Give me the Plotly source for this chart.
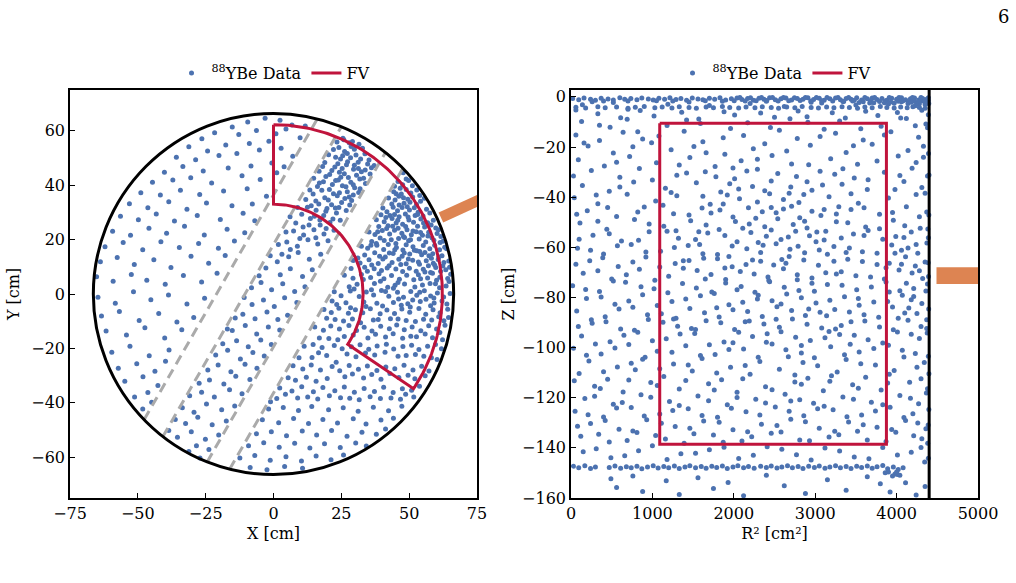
import math
import plotly.graph_objects as go

# ------------------------------------------------------------------ data
# Left panel: (X, Y) event positions in cm
LEFT_A = [(-9.5,63.2),(-3.1,64.6),(2.4,63.9),(6.8,62.1),(11.7,61.8),(-15.2,61.4),(-21.7,59.3),(-26.4,57.1),(-12.8,58.6),(-6.3,60.1),(0.9,58.9),(4.6,60.7),(9.8,57.4),(-1.7,56.2),(-8.9,55.3),(-17.6,54.8),(-31.2,54.1),(-24.3,52.6),(-35.8,50.3),(-28.7,49.4),(-20.1,50.9),(-13.5,51.7),(-5.2,52.9),(2.8,53.6),(7.1,50.6),(-0.6,48.2),(-8.3,47.1),(-16.7,46.3),(-25.9,45.2),(-33.4,46.9),(-40.2,44.8),(-44.6,41.1),(-37.1,41.9),(-30.5,42.7),(-22.8,40.8),(-11.6,43.5),(-4.9,42.1),(1.2,44.6),(3.9,46.8),(-48.9,37.2),(-41.7,36.4),(-34.3,38.1),(-27.2,36.6),(-18.4,37.9),(-9.7,38.7),(-2.6,35.9),(-53.1,33.2),(-46.3,31.7),(-38.6,33.9),(-31.9,31.2),(-24.7,33.5),(-15.3,32.4),(-7.8,33.1),(-56.4,28.6),(-49.8,27.3),(-43.2,29.4),(-36.5,26.8),(-28.1,28.9),(-19.6,27.4),(-11.2,29.7),(-6.9,26.9),(-59.3,23.1),(-52.7,21.6),(-45.9,24.2),(-39.4,22.3),(-32.8,24.9),(-25.5,21.7),(-17.1,23.8),(-10.6,22.5),(-62.1,17.4),(-55.4,18.9),(-48.2,16.3),(-41.5,19.2),(-34.7,17.1),(-27.6,18.6),(-20.3,16.8),(-14.4,19.5),(-63.8,11.9),(-57.6,13.4),(-51.3,10.8),(-44.1,12.6),(-37.8,9.7),(-30.4,13.9),(-23.9,11.3),(-17.8,14.2),(-65.2,6.3),(-59.1,4.7),(-52.4,7.2),(-46.7,5.1),(-39.9,3.6),(-33.2,6.8),(-26.5,4.4),(-20.8,7.6),(-64.7,-1.2),(-58.3,-3.4),(-51.6,0.8),(-45.2,-2.1),(-38.7,-0.4),(-31.9,-3.7),(-25.4,-1.6),(-63.4,-8.1),(-56.8,-6.4),(-49.5,-9.7),(-42.3,-7.2),(-35.6,-10.3),(-29.4,-8.6),(-61.7,-13.6),(-54.2,-15.1),(-47.4,-12.4),(-40.1,-16.2),(-33.8,-13.1),(-59.6,-21.4),(-52.9,-19.2),(-45.8,-22.7),(-38.5,-20.6),(-57.2,-27.3),(-50.4,-25.6),(-43.7,-28.4),(-39.8,-24.7),(-54.8,-32.1),(-48.1,-30.4),(-42.6,-33.6),(-51.2,-37.9),(-46.3,-36.2),(-48.2,-42.3),(-44.9,-39.8)]

LEFT_B = [(25.6,57.3),(27.9,55.6),(23.4,55.9),(29.8,53.2),(31.5,55.1),(26.2,52.4),(33.7,51.6),(22.1,53.1),(35.2,49.3),(28.4,50.1),(24.7,49.6),(20.3,51.2),(31.2,48.4),(37.1,47.2),(26.9,47.5),(22.6,46.7),(18.9,48.3),(33.8,45.6),(29.5,45.9),(35.6,44.1),(24.3,44.8),(20.7,43.9),(16.8,45.1),(27.6,42.8),(31.8,42.3),(33.9,40.6),(22.9,41.7),(18.4,41.3),(14.8,42.6),(25.4,39.8),(29.9,39.1),(20.6,38.4),(16.2,39.5),(13.4,38.2),(31.4,37.3),(27.2,37.6),(23.5,36.1),(18.9,35.4),(14.6,36.8),(11.9,34.7),(28.8,34.4),(25.1,33.6),(21.4,32.8),(16.7,33.1),(12.5,31.9),(26.8,30.7),(23.2,29.8),(19.3,30.4),(15.1,28.6),(10.4,29.3),(8.9,31.8),(24.6,27.1),(20.8,26.3),(17.2,25.4),(13.6,27.8),(8.2,26.1),(6.1,28.4),(22.3,23.4),(18.6,22.1),(14.9,23.6),(11.1,21.7),(7.4,23.2),(4.6,22.8),(20.1,19.6),(16.3,18.4),(12.7,19.9),(8.8,17.6),(4.9,19.1),(1.8,18.2),(17.4,14.6),(13.2,12.8),(9.1,15.3),(5.6,13.7),(1.4,11.9),(-1.2,14.1),(14.3,8.9),(10.7,6.4),(6.2,9.3),(2.5,7.1),(-2.8,9.6),(-5.3,6.7),(11.6,2.7),(7.8,0.9),(3.4,3.8),(-0.7,1.6),(-4.6,4.2),(-8.1,2.3),(8.6,-3.1),(4.1,-1.4),(0.3,-4.6),(-3.7,-2.2),(-7.9,-3.9),(-10.8,-1.3),(5.2,-7.8),(1.6,-9.4),(-2.4,-6.6),(-6.8,-9.1),(-11.3,-7.4),(-14.1,-8.8),(2.3,-13.2),(-1.9,-12.1),(-6.2,-14.7),(-10.4,-11.6),(-15.2,-13.4),(-17.0,-12.9),(-0.8,-18.6),(-4.7,-16.9),(-9.3,-19.4),(-13.6,-17.2),(-18.7,-18.3),(-3.4,-22.8),(-7.6,-21.5),(-12.2,-23.9),(-16.9,-20.7),(-21.3,-22.4),(-6.1,-27.3),(-10.5,-25.8),(-15.7,-28.6),(-20.4,-26.1),(-24.2,-27.9),(-8.7,-31.4),(-13.9,-30.2),(-18.3,-33.1),(-23.6,-31.6),(-27.4,-32.8),(-11.6,-36.7),(-16.2,-35.2),(-21.8,-37.9),(-26.5,-36.1),(-30.9,-37.4),(-14.3,-41.2),(-19.1,-42.6),(-24.7,-40.4),(-29.3,-43.5),(-33.6,-41.8),(-17.4,-46.7),(-22.6,-48.1),(-27.9,-45.3),(-32.4,-47.6),(-36.2,-46.1),(-20.2,-51.8),(-25.1,-53.4),(-30.3,-50.6),(-35.4,-52.7),(-38.6,-50.2),(-23.8,-57.2),(-28.4,-55.8),(-31.2,-57.9),(-27.1,-60.3)]

LEFT_B_CLUSTER = [(24.1,53.9),(28.6,54.2),(30.4,51.1),(25.5,50.8),(32.1,49.6),(27.3,48.6),(29.8,47.3),(23.7,47.9),(34.7,47.8),(21.5,45.4),(26.1,44.2),(30.6,43.7),(32.4,44.9),(19.3,43.2),(23.9,41.9),(28.5,41.1),(21.7,40.3),(26.7,39.4),(31.9,38.7),(17.8,38.1),(24.3,37.2),(29.4,36.4),(20.2,34.6),(26.3,35.1),(22.8,31.6),(28.1,32.7),(18.5,28.9),(21.9,27.6),(15.7,30.8),(13.1,25.4),
                  (25.9,56.7),(29.1,56.1),(32.8,53.6),(27.2,51.7),(22.9,50.3),(36.1,46.4),(31.3,46.1),(25.3,46.1),(18.1,46.9),(33.2,42.6),(29.4,40.2),(24.8,42.9),(16.9,40.8),(22.1,36.9),(27.9,35.7),(15.6,34.2),(19.7,31.4),(24.1,31.8),(13.9,32.4),(17.1,27.2),(10.9,24.6),(19.4,24.1),(15.6,20.7),(9.7,20.4),(6.2,16.4),(3.1,14.6)]

LEFT_C = [(47.8,44.6),(48.9,42.3),(45.9,41.4),(47.6,40.2),(49.8,41.7),(51.2,39.8),(46.7,38.9),(44.3,37.6),(48.9,38.4),(50.6,37.1),(52.8,38.2),(47.1,36.8),(53.9,36.2),(42.4,35.3),(44.8,34.6),(46.2,35.9),(49.5,34.8),(51.3,35.7),(54.2,34.1),(55.6,35.2),(48.1,33.4),(43.6,33.1),(52.7,32.9),(40.3,31.6),(41.8,30.2),(44.1,31.9),(45.7,30.6),(47.4,31.8),(50.1,30.9),(51.9,31.7),(53.3,30.1),(56.4,31.2),(57.6,29.8),(48.6,29.4),(42.9,28.9),(39.6,29.1),(55.1,28.7),(46.3,28.4),(37.9,27.3),(40.8,26.6),(43.7,27.8),(45.2,26.1),(49.9,27.2),(51.6,26.4),(54.3,27.6),(56.8,26.2),(58.9,27.1),(47.6,25.6),(42.2,25.1),(38.8,24.8),(53.1,24.9),(59.8,24.3),(55.7,24.6),(45.9,24.2),(35.2,22.8),(37.4,21.9),(40.1,23.3),(42.8,22.1),(44.6,23.4),(47.3,22.3),(49.2,23.6),(50.8,21.8),(52.6,22.9),(54.9,21.6),(57.2,22.7),(60.3,22.2),(61.7,21.1),(39.3,20.6),(46.1,20.4),(53.7,20.2),(58.4,20.7),(43.4,19.9),(49.8,19.6),(36.2,19.3),(56.1,19.1),(62.5,19.4),(32.4,17.6),(34.7,16.8),(38.1,17.9),(40.6,16.4),(42.3,18.2),(45.3,17.1),(47.7,16.2),(48.9,18.1),(51.4,17.4),(52.8,15.9),(55.2,17.8),(57.6,16.6),(59.4,17.9),(61.2,16.3),(63.1,17.2),(37.3,15.2),(44.1,14.9),(50.2,14.7),(54.6,14.4),(58.7,14.8),(62.1,14.1),(33.6,14.3),(41.2,13.6),(47.4,13.9),(29.4,12.3),(31.9,11.4),(35.2,12.6),(38.6,11.2),(40.3,12.9),(43.7,11.6),(46.2,12.8),(48.9,11.1),(51.3,12.4),(53.8,10.9),(56.3,12.2),(58.9,11.3),(60.7,12.7),(62.8,11.6),(64.6,12.1),(33.6,9.8),(37.1,9.3),(41.9,9.6),(45.1,9.2),(50.1,9.5),(55.2,9.1),(59.8,9.7),(63.5,8.9),(47.6,8.3),(28.6,9.4),(26.1,6.9),(29.3,5.8),(32.4,7.2),(35.8,6.1),(38.9,7.4),(40.7,5.6),(43.5,6.8),(46.4,5.4),(49.1,6.9),(51.7,5.2),(53.4,7.1),(56.8,5.9),(58.6,7.6),(61.3,6.2),(64.2,5.7),(65.3,7.3),(30.8,3.6),(37.2,3.9),(44.8,3.2),(48.3,3.7),(54.9,3.3),(59.7,3.8),(63.6,2.9),(27.9,2.7),(42.1,2.5),(22.4,0.8),(24.9,-0.6),(28.3,1.1),(31.6,-0.9),(34.2,0.7),(36.9,-0.4),(39.8,1.3),(42.5,-0.8),(45.7,0.6),(47.9,-1.2),(50.6,0.9),(52.8,-0.5),(55.6,1.2),(57.9,-0.7),(60.4,0.4),(62.7,-1.1),(65.1,0.2),(33.3,-2.9),(38.1,-3.4),(44.2,-3.1),(49.5,-3.6),(54.1,-2.8),(59.2,-3.3),(63.9,-3.7),(26.7,-3.2),(21.6,-2.6),(18.6,-5.7),(21.3,-6.8),(24.1,-5.2),(27.6,-7.1),(30.2,-5.8),(32.9,-6.9),(35.7,-5.4),(39.3,-7.3),(41.8,-5.9),(44.6,-7.2),(47.3,-5.5),(50.2,-6.7),(53.6,-5.3),(56.1,-7.4),(58.8,-5.8),(61.4,-6.9),(64.2,-5.6),(29.1,-9.2),(36.8,-9.6),(43.1,-9.1),(48.9,-9.7),(55.3,-9.3),(62.8,-9.8),(22.7,-9.4),(19.6,-8.9),(15.2,-12.1),(18.4,-13.3),(21.1,-11.8),(24.3,-12.9),(27.8,-11.6),(30.6,-13.4),(33.4,-12.2),(36.3,-13.6),(39.5,-11.9),(42.7,-12.8),(45.4,-11.4),(48.2,-13.1),(51.1,-12.1),(54.3,-13.5),(57.2,-11.7),(60.1,-12.9),(63.2,-11.5),(26.1,-15.6),(34.8,-16.2),(41.3,-15.8),(47.6,-16.3),(52.7,-15.7),(58.6,-16.1),(20.4,-16.4),(62.3,-16.8),(11.3,-19.2),(14.6,-18.6),(17.9,-19.7),(22.4,-18.9),(25.3,-20.1),(28.7,-19.4),(31.9,-18.7),(35.1,-20.3),(38.2,-19.1),(41.6,-18.5),(44.3,-20.2),(47.7,-19.3),(50.9,-18.8),(53.6,-20.4),(56.8,-19.2),(59.7,-18.6),(61.9,-20.1),(19.6,-22.6),(30.4,-23.1),(37.3,-22.4),(45.9,-22.9),(52.3,-22.2),(58.2,-23.4),(14.2,-23.3),(7.2,-26.4),(10.8,-27.6),(13.9,-26.1),(17.3,-27.9),(21.6,-26.7),(24.4,-28.2),(27.9,-26.3),(31.3,-27.7),(34.6,-26.5),(38.1,-28.1),(41.4,-26.8),(44.7,-27.5),(48.1,-26.2),(51.4,-27.9),(54.6,-26.6),(57.3,-28.3),(12.1,-30.6),(19.8,-31.1),(26.3,-30.4),(33.2,-30.9),(39.6,-31.3),(46.2,-30.7),(52.1,-31.2),(55.9,-30.1),(5.4,-30.8),(2.3,-34.6),(6.8,-35.7),(10.4,-34.1),(14.7,-35.9),(18.2,-34.4),(22.6,-35.6),(26.1,-34.2),(29.8,-36.1),(33.4,-34.7),(37.2,-35.8),(40.6,-34.3),(44.1,-36.2),(47.5,-34.8),(50.9,-35.4),(53.8,-33.9),(8.9,-38.2),(16.3,-38.6),(24.7,-38.1),(31.6,-38.9),(39.4,-38.4),(46.8,-38.7),(51.7,-37.9),(1.2,-38.4)]

LEFT_C_FV = [(44.6,39.6),(45.2,36.9),(50.3,33.7),(47.9,35.4),(53.1,29.2),(49.6,28.3),(45.8,27.1),(41.4,28.1),(43.9,24.9),(51.4,23.2),(54.2,22.6),(48.3,20.8),(40.8,19.7),(37.9,18.6),(44.7,16.3),(48.2,15.1),(51.9,16.1),(55.8,15.3),(58.2,13.1),(39.1,13.9),(36.2,10.7),(42.6,10.4),(46.9,10.8),(49.7,12.9),(52.6,8.4),(57.9,7.9),(60.1,5.1),(54.2,5.6),(45.9,4.2),(39.4,4.7),(33.1,5.3),(29.7,1.8),(36.1,1.6),(41.3,0.9),(53.9,0.6),(59.1,-1.5),(62.1,-2.6),(47.1,-4.1),(40.2,-4.4),(34.1,-4.6),(28.4,-5.1),(23.3,-3.9),(25.8,-9.9),(32.1,-10.6),(38.6,-9.4),(45.9,-9.2),(52.3,-10.1),(58.3,-9.6),(29.4,-15.1),(37.6,-14.8),(44.1,-14.6),(50.6,-15.5),(55.9,-14.7),(61.3,-14.2),(16.9,-16.2),(23.7,-16.8),(27.1,-22.1),(33.9,-21.7),(41.1,-21.4),(48.9,-22.6),(55.4,-22.9),(60.3,-24.1),(16.6,-21.6),(9.4,-23.4),(23.1,-25.1),(36.2,-29.6),(42.9,-29.2),(49.6,-29.9),(29.1,-29.4),(15.7,-32.1),(8.1,-31.7),(20.6,-37.4),(28.1,-38.3),(35.6,-37.8),(43.3,-38.2),(48.7,-36.9),(12.6,-37.9),(4.4,-36.9),(-1.1,-39.6)]

LEFT_C_LOW = [(-1.8,-42.3),(3.6,-41.7),(9.2,-42.8),(14.1,-41.4),(20.3,-42.6),(25.7,-41.8),(31.2,-43.1),(36.8,-41.6),(42.4,-42.9),(47.3,-41.3),(-4.1,-46.2),(1.9,-47.3),(7.4,-45.8),(12.9,-47.6),(18.2,-46.1),(23.6,-47.4),(29.4,-45.9),(34.1,-47.8),(39.6,-46.3),(44.2,-45.7),(-6.3,-51.4),(-0.8,-50.6),(4.8,-52.1),(10.6,-50.4),(15.9,-51.8),(21.4,-50.2),(27.1,-52.3),(32.6,-50.8),(37.9,-51.6),(41.3,-49.6),(-9.2,-55.8),(-3.6,-54.7),(2.1,-56.3),(7.8,-54.9),(13.4,-56.6),(18.8,-55.1),(24.6,-56.4),(30.3,-54.8),(34.2,-55.9),(-12.4,-60.3),(-6.9,-59.4),(-1.2,-61.1),(4.6,-59.8),(10.3,-61.4),(15.7,-59.6),(21.2,-60.9),(25.8,-59.2),(-8.6,-63.8),(-2.4,-64.6),(4.1,-63.4),(10.7,-64.1)]

LEFT_C_SOURCE = [(58.1,25.4),(60.8,23.6),(56.9,21.3),(59.1,19.8),(61.4,18.9),(63.8,16.6),(57.3,14.1),(60.9,13.6),(62.4,10.3),(64.9,9.8),(59.4,10.7),(55.8,8.1),(61.6,8.4),(57.7,3.9),(52.1,2.6),(61.2,2.3),(64.7,4.6),(56.2,-1.9),(51.3,-2.2),(46.1,-1.8),(53.9,15.6),(50.5,19.9),(47.9,21.1),(55.3,26.1),(52.2,28.9),(49.3,32.1),(46.3,32.7),(44.6,29.2),(41.7,24.1),(38.4,22.9),(48.7,24.8),(45.1,18.6),(42.7,15.1),(53.4,11.8),(57.1,10.4),(39.8,8.6),(34.6,8.4),(31.1,13.2),(35.9,17.9),(44.2,2.1),(50.4,-4.8),(57.9,-4.3),(60.9,-8.4),(64.5,-8.6)]

# Right panel: (R^2 in cm^2, Z in cm) event positions
RIGHT_TOP = [(20,-0.6),(95,-1.1),(160,-0.4),(240,-0.9),(300,-1.3),(370,-0.5),(455,-0.8),(520,-1.2),(600,-0.3),(660,-0.9),(735,-0.6),(810,-1.1),(870,-0.4),(950,-0.8),(1010,-1.2),(1080,-0.5),(1150,-0.9),(1215,-0.3),(1290,-1.0),(1350,-0.6),(1420,-1.3),(1490,-0.4),(1560,-0.8),(1620,-1.1),(1700,-0.5),(1765,-0.9),(1830,-0.3),(1900,-1.2),(1970,-0.7),(2040,-0.4),(2100,-1.0),(2170,-0.6),(2240,-1.3),(2310,-0.5),(2370,-0.9),(2440,-0.3),(2510,-1.1),(2580,-0.7),(2640,-0.4),(2710,-1.2),(2780,-0.6),(2850,-0.9),(2910,-0.3),(2980,-1.0),(3050,-0.5),(3110,-1.3),(3180,-0.7),(3250,-0.4),(3310,-1.1),(3380,-0.6),(3440,-0.9),(3510,-0.3),(3570,-1.2),(3640,-0.7),(3700,-0.4),(3760,-1.0),(3820,-0.6),(3880,-1.3),(3940,-0.5),(4000,-0.9),(4060,-0.3),(4110,-1.1),(4170,-0.7),(4220,-0.4),(4270,-1.2),(4320,-0.6),(4370,-0.9),(3350,-1.8),(3460,-1.6),(3590,-1.9),(3680,-1.5),(3790,-1.8),(3860,-1.6),(3930,-2.0),(4020,-1.7),(4080,-1.5),(4150,-1.9),(4210,-1.6),(4260,-2.1),(4300,-1.5),(4340,-1.8),(4390,-1.4),(4395,-2.6),(4350,-3.0),(4280,-2.7),
             (2005,-1.5),(2075,-0.2),(2140,-1.6),(2205,-0.3),(2275,-1.5),(2340,-0.2),(2405,-1.4),(2475,-0.2),(2545,-1.6),(2610,-0.2),(2675,-1.5),(2745,-0.3),(2815,-1.4),(2880,-0.2),(2945,-1.6),(3015,-0.2),(3080,-1.5),(3145,-0.2),(3215,-1.6),(3280,-0.2),(3410,-0.2),(3480,-1.3),(3540,-2.2),(3610,-0.2),(3670,-2.4),(3730,-0.2),(3850,-2.3),(3910,-0.2),(3970,-2.5),(4030,-0.2),(4140,-2.6),(4195,-0.2),(4245,-2.8),(4300,-0.2),(4355,-2.4),(4390,-0.3),(1050,-1.5),(1250,-1.6),(1650,-1.5),(1860,-1.7),(700,-1.6),(400,-1.6)]

RIGHT_ROW2 = [(60,-4.1),(180,-4.4),(330,-3.9),(420,-4.3),(560,-4.0),(700,-4.5),(790,-4.1),(900,-3.8),(1030,-4.3),(1120,-4.0),(1240,-4.4),(1330,-3.9),(1450,-4.2),(1540,-4.5),(1660,-4.0),(1750,-4.3),(1860,-3.8),(1950,-4.2),(2060,-4.4),(2150,-4.0),(2260,-4.3),(2350,-3.9),(2460,-4.2),(2550,-4.5),(2650,-4.0),(2750,-4.3),(2840,-3.8),(2950,-4.2),(3040,-4.4),(3140,-4.0),(3230,-4.3),(3330,-3.9),(3420,-4.2),(3520,-4.5),(3610,-4.0),(3700,-4.3),(3800,-3.8),(3880,-4.2),(3970,-4.4),(4050,-4.0),(4130,-4.3),(4200,-3.9),(4280,-4.2),(4350,-4.5)]

RIGHT_NEAR_TOP = [(140,-3.1),(330,-6.7),(520,-2.2),(610,-8.3),(850,-5.4),(1020,-7.6),(1190,-2.9),(1360,-6.1),(1570,-8.8),(1700,-3.4),(1880,-5.9),(2010,-7.2),(2200,-2.6),(2330,-6.4),(2500,-8.1),(2620,-3.8),(2790,-5.6),(2900,-7.9),(3080,-2.4),(3210,-6.3),(3370,-8.4),(3500,-3.2),(3620,-5.7),(3770,-7.4),(3900,-2.8),(4010,-6.2),(4120,-8.6),(4230,-3.5),(4310,-5.3),(4390,-7.1),(4180,-2.1),(4060,-1.9),(3720,-2.3),(3340,-1.8),(2950,-2.1),(60,-5.2),(260,-1.9),(700,-4.9),(1450,-2.0),(2400,-1.7)]

RIGHT_BULK = [(130,-9.8),(480,-12.1),(690,-8.9),(1180,-11.4),(1420,-9.2),(1960,-12.6),(2170,-10.3),(2690,-8.7),(3110,-12.9),(3300,-9.6),(3810,-11.7),(4050,-8.4),(4360,-10.8),
              (60,-15.2),(350,-17.4),(640,-14.1),(880,-16.8),(1390,-13.7),(1620,-17.9),(2120,-15.4),(2560,-13.3),(2780,-16.6),(3250,-14.5),(3590,-17.2),(3930,-13.9),(4270,-16.1),
              (210,-19.6),(520,-22.4),(990,-18.3),(1230,-21.1),(1510,-19.8),(1890,-22.9),(2380,-18.7),(2650,-21.6),(2940,-19.3),(3380,-22.2),(3700,-18.9),(4140,-21.4),(4330,-19.7),
              (90,-25.1),(410,-27.6),(720,-23.8),(1050,-26.3),(1460,-24.2),(1770,-27.8),(2090,-25.5),(2470,-23.4),(2920,-27.1),(3190,-24.7),(3520,-26.9),(4020,-23.6),(4240,-26.2),(1990,-28.4),
              (250,-29.4),(600,-32.1),(840,-28.6),(1300,-31.3),(1650,-29.9),(2010,-32.7),(2290,-28.9),(2770,-31.8),(3060,-29.7),(3480,-32.4),(3850,-30.1),(4190,-28.5),(4380,-31.6),(2540,-30.6),
              (140,-35.3),(470,-37.6),(770,-33.9),(1160,-36.4),(1540,-34.2),(1840,-37.9),(2230,-35.7),(2460,-33.5),(2960,-37.2),(3330,-34.8),(3640,-36.9),(4090,-33.7),(4310,-36.1),(2700,-35.9),(1950,-34.6),
              (40,-40.2),(330,-42.6),(690,-38.8),(1040,-41.5),(1300,-39.4),(1710,-42.8),(2070,-40.6),(2290,-41.9),(2440,-38.6),(2800,-42.1),(3170,-39.8),(3530,-42.4),(3900,-40.3),(4240,-38.9),(1920,-39.1),(2610,-40.9),
              (200,-45.4),(560,-47.7),(900,-43.9),(1260,-46.6),(1450,-47.1),(1610,-44.3),(1990,-47.9),(2350,-45.8),(2520,-46.2),(2710,-43.6),(3070,-47.3),(3440,-44.9),(3790,-46.8),(4120,-43.8),(4370,-45.9),(2180,-44.2),
              (110,-50.3),(440,-52.8),(780,-48.9),(1140,-51.6),(1470,-49.4),(1660,-51.1),(1820,-52.9),(2190,-50.7),(2540,-48.6),(2730,-50.9),(2900,-52.3),(3260,-49.8),(3620,-51.9),(3960,-49.2),(4290,-52.4),(2380,-51.8),
              (270,-55.2),(620,-57.5),(960,-53.8),(1320,-56.4),(1680,-54.3),(2040,-57.8),(2210,-54.1),(2400,-55.6),(2580,-56.9),(2760,-53.6),(2930,-55.4),(3110,-57.1),(3470,-54.7),(3830,-56.8),(4180,-53.9),(4390,-56.2),
              (80,-60.4),(400,-62.7),(740,-58.9),(1100,-61.6),(1440,-59.3),(1800,-62.9),(1980,-59.5),(2160,-60.6),(2520,-58.6),(2690,-60.8),(2870,-62.2),(3050,-61.1),(3230,-59.7),(3580,-61.8),(3940,-59.1),(4260,-62.4),(4140,-60.3),
              (230,-65.4),(580,-67.7),(920,-63.9),(1280,-66.5),(1630,-64.4),(1980,-67.8),(2330,-65.6),(2490,-67.1),(2680,-63.7),(2860,-65.1),(3040,-67.2),(3400,-64.8),(3580,-65.7),(3760,-66.9),(4110,-63.8),(4230,-67.5),(4350,-65.9),
              (150,-70.3),(500,-72.6),(840,-68.8),(1200,-71.5),(1550,-69.3),(1900,-72.8),(2250,-70.6),(2610,-68.6),(2780,-70.9),(2960,-72.2),(3320,-69.7),(3500,-71.3),(3680,-71.8),(4030,-69.1),(4190,-70.2),(4320,-72.4),
              (20,-75.3),(350,-77.6),(670,-73.9),(1020,-76.5),(1370,-74.4),(1730,-77.8),(2090,-75.6),(2440,-73.7),(2620,-75.9),(2800,-77.2),(3150,-74.8),(3330,-75.1),(3510,-76.9),(3870,-73.8),(4210,-76.4),(4380,-74.6),
              (190,-80.4),(540,-82.7),(880,-78.9),(1240,-81.6),(1590,-79.3),(1940,-82.9),(2290,-80.6),(2470,-81.3),(2650,-78.6),(2830,-80.1),(3010,-82.2),(3360,-79.7),(3720,-81.8),(4070,-79.1),(4180,-80.9),(4310,-82.4),
              (70,-85.4),(420,-87.7),(760,-83.9),(1110,-86.5),(1460,-84.4),(1820,-87.8),(2170,-85.6),(2530,-83.7),(2710,-85.2),(2880,-87.2),(3240,-84.8),(3420,-85.8),(3600,-86.9),(3950,-83.8),(4250,-86.4),
              (260,-90.3),(610,-92.6),(950,-88.8),(1310,-91.5),(1660,-89.3),(2010,-92.8),(2190,-89.4),(2370,-90.6),(2720,-88.6),(2900,-90.7),(3080,-92.2),(3440,-89.7),(3790,-91.8),(4140,-89.1),(4370,-92.4),
              (130,-95.4),(480,-97.7),(820,-93.9),(1170,-96.5),(1520,-94.4),(1880,-97.8),(2230,-95.6),(2580,-93.7),(2760,-95.9),(2940,-97.2),(3300,-94.8),(3650,-96.9),(4010,-93.8),(4280,-96.4),
              (30,-100.3),(370,-102.6),(710,-98.8),(1060,-101.5),(1410,-99.3),(1770,-102.8),(2120,-100.6),(2470,-98.6),(2640,-100.9),(2830,-102.2),(3190,-99.7),(3540,-101.8),(3900,-99.1),(4230,-102.4),
              (220,-105.4),(570,-107.7),(910,-103.9),(1260,-106.5),(1610,-104.4),(1960,-107.8),(2320,-105.6),(2670,-103.7),(3030,-107.2),(3380,-104.8),(3740,-106.9),(4090,-103.8),(4340,-105.9),
              (100,-110.3),(450,-112.6),(790,-108.8),(1140,-111.5),(1490,-109.3),(1850,-112.8),(2200,-110.6),(2560,-108.6),(2750,-110.9),(2910,-112.2),(3270,-109.7),(3620,-111.8),(3970,-109.1),(4300,-112.4),
              (290,-115.4),(640,-117.7),(980,-113.9),(1330,-116.5),(1690,-114.4),(2040,-117.8),(2390,-115.6),(2750,-113.7),(3100,-117.2),(3460,-114.8),(3810,-116.9),(4160,-113.8),(4380,-116.4),
              (170,-120.3),(520,-122.6),(860,-118.8),(1210,-121.5),(1560,-119.3),(1920,-122.8),(2270,-120.6),(2630,-118.6),(2810,-120.8),(2980,-122.2),(3340,-119.7),(3690,-121.8),(4040,-119.1),(4270,-122.4),
              (50,-125.4),(400,-127.7),(740,-123.9),(1090,-126.5),(1440,-124.4),(1800,-127.8),(2150,-125.6),(2510,-123.7),(2860,-127.2),(3220,-124.8),(3570,-126.9),(3920,-123.8),(4200,-126.4),
              (240,-130.3),(590,-132.6),(930,-128.8),(1280,-131.5),(1630,-129.3),(1990,-132.8),(2340,-130.6),(2700,-128.6),(3050,-132.2),(3410,-129.7),(3760,-131.8),(4110,-129.1),(4360,-132.4),
              (120,-135.4),(470,-137.7),(810,-133.9),(1160,-136.5),(1510,-134.4),(1870,-137.8),(2220,-135.6),(2580,-133.7),(2930,-137.2),(3290,-134.8),(3640,-136.9),(3990,-133.8),(4310,-136.4),
              (310,-140.4),(660,-143.1),(1000,-139.2),(1350,-142.3),(1700,-140.8),(2060,-144.2),(2410,-139.6),(2770,-142.7),(3120,-140.1),(3480,-143.6),(3830,-139.9),(4180,-141.8),(4390,-144.1)]

RIGHT_BULK_2 = [(350,-11.3),(820,-13.9),(1590,-10.6),(2450,-12.2),(2910,-10.1),(3560,-12.7),(4230,-11.5),
                (160,-18.4),(760,-19.9),(1080,-15.6),(1870,-16.3),(2240,-20.7),(3060,-15.8),(3470,-19.5),(3850,-15.2),
                (560,-26.1),(1330,-27.2),(1660,-22.3),(2290,-24.9),(2710,-26.8),(3340,-28.7),(3760,-25.6),(4330,-24.1),
                (30,-31.6),(1000,-33.2),(1420,-30.4),(1780,-31.9),(2160,-29.6),(2900,-33.8),(3240,-30.9),(3650,-33.1),(4040,-31.4),
                (310,-39.1),(600,-35.9),(1230,-38.1),(1620,-39.6),(2060,-36.7),(2380,-37.4),(2860,-38.9),(3090,-35.1),(3440,-38.6),(3980,-36.9),
                (70,-46.8),(450,-44.1),(820,-45.9),(1130,-43.2),(1830,-45.1),(2270,-48.4),(2610,-44.7),(2960,-45.6),(3260,-46.7),(3600,-44.2),(3950,-46.1),(4280,-47.8),
                (330,-49.6),(960,-50.7),(1290,-53.4),(1570,-53.8),(2020,-49.7),(2460,-53.1),(2810,-48.2),(3130,-53.6),(3400,-50.2),(3790,-52.6),(4100,-51.4),
                (100,-56.8),(470,-54.6),(830,-57.2),(1180,-53.6),(1530,-56.9),(1890,-55.3),(2300,-58.1),(2670,-55.9),(3020,-53.9),(3320,-56.3),(3650,-53.3),(3990,-55.7),
                (240,-61.2),(570,-59.4),(920,-61.9),(1270,-60.1),(1620,-62.6),(2330,-62.1),(2790,-59.6),(3150,-62.8),(3420,-60.3),(3760,-62.4),(4060,-61.2),
                (60,-66.8),(390,-64.2),(760,-65.9),(1090,-67.9),(1450,-65.3),(1800,-64.6),(2150,-66.9),(2590,-64.9),(3230,-65.6),(3910,-66.4),
                (330,-69.4),(680,-70.9),(1030,-73.1),(1380,-68.4),(1720,-70.8),(2080,-69.6),(2430,-73.2),(3130,-70.1),(3850,-72.6),
                (180,-76.8),(520,-73.4),(860,-75.7),(1190,-78.1),(1540,-76.2),(1900,-74.2),(2260,-77.9),(2960,-74.3),(3690,-75.8),(4040,-77.3),
                (370,-79.8),(710,-81.4),(1060,-83.2),(1410,-80.6),(1760,-78.4),(2110,-81.9),(3180,-81.1),(3540,-83.1),(3890,-81.6),
                (250,-88.9),(590,-84.6),(940,-86.9),(1290,-88.3),(1640,-86.1),(1990,-84.9),(2350,-87.6),(3060,-85.9),(3780,-87.9),(4100,-86.2),
                (90,-91.6),(430,-89.7),(780,-93.1),(1130,-89.9),(1480,-92.4),(1840,-90.1),(2560,-91.9),(3250,-92.6),(3610,-89.4),(3960,-92.9),
                (300,-98.6),(650,-95.1),(1000,-97.3),(1340,-94.6),(1700,-98.9),(2060,-93.9),(2400,-97.9),(3120,-96.1),(3480,-95.1),(3830,-98.2),(4180,-94.7),
                (190,-103.1),(540,-100.2),(880,-104.7),(1240,-101.9),(1590,-103.2),(1940,-100.8),(2300,-103.9),(2990,-104.1),(3360,-102.9),(3720,-100.4),(4070,-101.1),
                (400,-109.6),(740,-106.2),(1090,-108.4),(1440,-106.9),(1790,-110.1),(2140,-107.1),(2850,-105.9),(3200,-111.2),(3560,-106.4),(3910,-110.6),(4250,-107.8),
                (40,-113.2),(360,-116.3),(710,-112.9),(1060,-115.1),(1410,-113.1),(1760,-116.9),(2110,-112.4),(2470,-116.8),(2830,-114.6),(3180,-113.4),(3530,-116.2),(3890,-114.1),
                (290,-119.4),(630,-121.9),(980,-119.8),(1330,-123.1),(1690,-121.2),(2040,-119.9),(2390,-122.1),(2700,-121.3),(3110,-123.4),(3470,-120.6),(3830,-122.8),(4170,-120.2),
                (210,-126.8),(560,-124.1),(900,-127.3),(1250,-125.1),(1610,-127.1),(1970,-124.2),(2320,-126.9),(2680,-125.4),(3030,-124.4),(3390,-127.6),(3740,-125.3),(4090,-127.9),
                (80,-131.4),(420,-129.1),(760,-133.3),(1110,-130.2),(1460,-132.2),(1820,-129.8),(2170,-133.6),(2530,-131.1),(2880,-129.6),(3240,-133.4),(3590,-130.8),(3940,-132.7),(4260,-130.1),
                (340,-134.6),(690,-137.1),(1040,-135.1),(1390,-138.2),(1750,-134.9),(2100,-137.3),(2460,-134.2),(2810,-136.9),(3170,-135.7),(3520,-133.4),(3870,-137.5),(4210,-135.2),
                (150,-141.6),(490,-143.9),(830,-141.2),(1180,-144.6),(1530,-142.1),(1880,-139.8),(2240,-142.9),(2590,-140.6),(2950,-144.8),(3300,-141.3),(3660,-144.3),(4010,-142.8),(4300,-139.9)]

RIGHT_DENSE = [(1720,-46.3),(2110,-52.4),(2460,-44.1),(2870,-49.6),(3290,-43.8),(1580,-58.9),(1940,-63.7),(2360,-59.2),(2640,-66.4),(3010,-57.8),(3380,-62.1),(1650,-72.6),(2040,-76.9),(2420,-71.8),(2990,-77.5),(3260,-70.6),(1790,-84.1),(2140,-89.7),(2580,-82.6),(3140,-87.3),(3530,-80.4),(1530,-92.8),(1990,-98.1),(2410,-94.5),(2830,-99.2),(3170,-93.6),(3430,-98.7),(1870,-42.7),(2680,-38.4),(3110,-44.9),(2230,-65.1),(2780,-72.9),(1890,-68.3),(2520,-88.7),(3320,-91.2),(2920,-84.6),(2300,-79.1),(3600,-55.3),(1380,-65.4),(1260,-88.6),
               (4380,-12.3),(4392,-22.6),(4350,-38.4),(4396,-47.1),(4372,-58.3),(4388,-66.2),(4360,-77.4),(4394,-84.6),(4376,-94.2),(4390,-103.5),(4366,-118.1),(4396,-124.7),(4382,-138.2),(4345,-145.6),(4398,-31.2),(4384,-52.7),(4392,-71.6),(4370,-88.9),(4397,-110.4),(4388,-130.9),
               (3980,-62.4),(4060,-66.8),(4120,-74.3),(4210,-79.6),(4280,-69.4),(4150,-84.2),(4240,-58.9),(3910,-77.8),(4020,-88.3),(4300,-91.6),(4090,-56.1),(3870,-68.2)]

RIGHT_BOTTOM = [(30,-147.3),(95,-147.9),(170,-147.1),(240,-148.2),(300,-147.6),(470,-147.8),(540,-147.2),(610,-148.1),(680,-147.5),(740,-147.9),(810,-147.3),(870,-148.3),(940,-147.6),(1010,-147.1),(1070,-148.0),(1140,-147.4),(1200,-147.9),(1270,-147.2),(1330,-148.2),(1400,-147.6),(1460,-147.1),(1530,-147.9),(1600,-147.4),(1660,-148.1),(1730,-147.3),(1790,-147.8),(1860,-147.2),(1920,-148.2),(1990,-147.6),(2050,-147.1),(2120,-147.9),(2180,-147.4),(2250,-148.1),(2330,-147.3),(2400,-147.8),(2460,-147.2),(2530,-148.0),(2590,-147.6),(2660,-147.1),(2720,-147.9),(2790,-147.4),(2850,-148.2),(2920,-147.3),(2990,-147.8),(3050,-147.2),(3120,-148.1),(3180,-147.6),(3250,-147.1),(3310,-147.9),(3380,-147.4),(3440,-148.2),(3510,-147.3),(3570,-147.8),(3640,-147.2),(3700,-148.1),(3760,-147.5),(3830,-147.0),(3890,-148.3),(3960,-147.6),(4020,-148.6),(4080,-147.9),(3900,-149.6),(3980,-150.4),(4040,-150.9)]

RIGHT_BELOW = [(490,-152.3),(560,-155.8),(760,-151.2),(880,-157.4),(1170,-153.1),(1330,-158.6),(1560,-151.9),(1750,-156.2),(1930,-153.8),(2120,-159.1),(2400,-150.9),(2620,-155.1),(2880,-158.2),(3150,-152.7),(3380,-156.9),(3640,-151.5),(3800,-154.3),(3920,-157.6),(4010,-150.6),(4110,-153.9),(4240,-158.8),(4350,-155.4),(3860,-149.9),(3950,-151.2),(4000,-149.6)]

# tick labels
X_TICKS_L = [-75, -50, -25, 0, 25, 50, 75]
X_TEXT_L = ["\u221275", "\u221250", "\u221225", "0", "25", "50", "75"]
Y_TICKS_L = [-60, -40, -20, 0, 20, 40, 60]
Y_TEXT_L = ["\u221260", "\u221240", "\u221220", "0", "20", "40", "60"]
X_TICKS_R = [0, 1000, 2000, 3000, 4000, 5000]
X_TEXT_R = ["0", "1000", "2000", "3000", "4000", "5000"]
Y_TICKS_R = [0, -20, -40, -60, -80, -100, -120, -140, -160]
Y_TEXT_R = ["0", "\u221220", "\u221240", "\u221260", "\u221280", "\u2212100", "\u2212120", "\u2212140", "\u2212160"]

# geometry
TPC_R = 66.4
R2_WALL = 4400
FV_R2 = (1090, 3875)
FV_Z = (-10.5, -138.6)
FV_PHI = (-34.0, 90.0)
STRIP_ANGLE = 60.0
STRIP_OFFSETS = [-18.2, -9.1, 9.7, 18.2]
SOURCE_ANGLE = 24.5
SOURCE_R = (67.8, 95.0)
SOURCE_R2 = (4490, 5000)
SOURCE_Z = (-74.6, -68.0)

BLUE = "#4C72B0"
RED = "#C0143C"
ORANGE = "#DD8452"
GRAY = "#AAAAAA"
FONT = "DejaVu Serif"
FS = 16

# ------------------------------------------------------------------ figure
fig = go.Figure()

left_pts = LEFT_A + LEFT_B + LEFT_B_CLUSTER + LEFT_C + LEFT_C_FV + LEFT_C_LOW + LEFT_C_SOURCE
right_pts = (RIGHT_TOP + RIGHT_ROW2 + RIGHT_NEAR_TOP + RIGHT_BULK + RIGHT_BULK_2
             + RIGHT_DENSE + RIGHT_BOTTOM + RIGHT_BELOW)

fig.add_trace(go.Scatter(
    x=[p[0] for p in left_pts], y=[p[1] for p in left_pts], mode="markers",
    marker=dict(color=BLUE, size=5), name="<sup>88</sup>YBe Data",
    xaxis="x", yaxis="y", legend="legend"))

# excluded strips (dashed)
ux, uy = math.cos(math.radians(STRIP_ANGLE)), math.sin(math.radians(STRIP_ANGLE))
nx, ny = uy, -ux
for d in STRIP_OFFSETS:
    t = math.sqrt(TPC_R ** 2 - d ** 2)
    cx, cy = d * nx, d * ny
    fig.add_trace(go.Scatter(
        x=[cx - t * ux, cx + t * ux], y=[cy - t * uy, cy + t * uy], mode="lines",
        line=dict(color=GRAY, width=3, dash="10px,6px"), showlegend=False,
        xaxis="x", yaxis="y", hoverinfo="skip"))

# FV wedge in XY
r_in, r_out = math.sqrt(FV_R2[0]), math.sqrt(FV_R2[1])
n = 120
wx, wy = [], []
for i in range(n + 1):
    a = math.radians(FV_PHI[1] + (FV_PHI[0] - FV_PHI[1]) * i / n)
    wx.append(r_out * math.cos(a)); wy.append(r_out * math.sin(a))
for i in range(n + 1):
    a = math.radians(FV_PHI[0] + (FV_PHI[1] - FV_PHI[0]) * i / n)
    wx.append(r_in * math.cos(a)); wy.append(r_in * math.sin(a))
wx.append(wx[0]); wy.append(wy[0])
fig.add_trace(go.Scatter(x=wx, y=wy, mode="lines", line=dict(color=RED, width=3),
                         name="FV", xaxis="x", yaxis="y", legend="legend", hoverinfo="skip"))

# source position (XY)
sa = math.radians(SOURCE_ANGLE)
fig.add_trace(go.Scatter(
    x=[SOURCE_R[0] * math.cos(sa), SOURCE_R[1] * math.cos(sa)],
    y=[SOURCE_R[0] * math.sin(sa), SOURCE_R[1] * math.sin(sa)],
    mode="lines", line=dict(color=ORANGE, width=11), showlegend=False,
    xaxis="x", yaxis="y", hoverinfo="skip"))

# right panel
fig.add_trace(go.Scatter(
    x=[p[0] for p in right_pts], y=[p[1] for p in right_pts], mode="markers",
    marker=dict(color=BLUE, size=5), name="<sup>88</sup>YBe Data",
    xaxis="x2", yaxis="y2", legend="legend2"))
fig.add_trace(go.Scatter(
    x=[FV_R2[0], FV_R2[1], FV_R2[1], FV_R2[0], FV_R2[0]],
    y=[FV_Z[0], FV_Z[0], FV_Z[1], FV_Z[1], FV_Z[0]],
    mode="lines", line=dict(color=RED, width=3), name="FV",
    xaxis="x2", yaxis="y2", legend="legend2", hoverinfo="skip"))

shapes = [
    dict(type="circle", xref="x", yref="y", x0=-TPC_R, x1=TPC_R, y0=-TPC_R, y1=TPC_R,
         line=dict(color="black", width=3), layer="above"),
    dict(type="line", xref="x2", yref="y2 domain", x0=R2_WALL, x1=R2_WALL, y0=0, y1=1,
         line=dict(color="black", width=3), layer="above"),
    dict(type="rect", xref="x2", yref="y2", x0=SOURCE_R2[0], x1=SOURCE_R2[1],
         y0=SOURCE_Z[0], y1=SOURCE_Z[1], fillcolor=ORANGE, line=dict(width=0), layer="above"),
]

ax_common = dict(showgrid=False, zeroline=False, showline=True, mirror=True,
                 linecolor="black", linewidth=1.5, ticks="inside", ticklen=5,
                 tickwidth=1.2, tickcolor="black", automargin=False,
                 tickfont=dict(family=FONT, size=FS, color="black"))
tfont = dict(family=FONT, size=FS, color="black")

y0d, y1d = 1 - 498 / 583, 1 - 90 / 583
fig.update_layout(
    width=1016, height=583, margin=dict(l=0, r=0, t=0, b=0, autoexpand=False),
    paper_bgcolor="white", plot_bgcolor="white",
    font=dict(family=FONT, size=FS, color="black"),
    xaxis=dict(domain=[70 / 1016, 477 / 1016], range=[-75, 75], anchor="y",
               tickvals=X_TICKS_L, ticktext=X_TEXT_L,
               title=dict(text="X [cm]", font=tfont, standoff=6), **ax_common),
    yaxis=dict(domain=[y0d, y1d], range=[-75, 75], anchor="x",
               tickvals=Y_TICKS_L, ticktext=Y_TEXT_L,
               title=dict(text="Y [cm]", font=tfont, standoff=8), **ax_common),
    xaxis2=dict(domain=[571 / 1016, 978 / 1016], range=[0, 5000], anchor="y2",
                tickvals=X_TICKS_R, ticktext=X_TEXT_R,
                title=dict(text="R\u00b2 [cm\u00b2]", font=tfont, standoff=6), **ax_common),
    yaxis2=dict(domain=[y0d, y1d], range=[-160, 2.75], anchor="x2",
                tickvals=Y_TICKS_R, ticktext=Y_TEXT_R,
                title=dict(text="Z [cm]", font=tfont, standoff=3), **ax_common),
    legend=dict(orientation="h", x=(70 + 477) / 2 / 1016, y=1 - 73 / 583, xanchor="center",
                yanchor="middle", font=dict(family=FONT, size=FS), bgcolor="rgba(0,0,0,0)"),
    legend2=dict(orientation="h", x=(571 + 978) / 2 / 1016, y=1 - 73 / 583, xanchor="center",
                 yanchor="middle", font=dict(family=FONT, size=FS), bgcolor="rgba(0,0,0,0)"),
    shapes=shapes,
    annotations=[dict(text="6", x=1003 / 1016, y=1 - 17 / 583, xref="paper", yref="paper",
                      xanchor="center", yanchor="middle", showarrow=False,
                      font=dict(family=FONT, size=18, color="black"))],
)

fig.write_html("out.html")
